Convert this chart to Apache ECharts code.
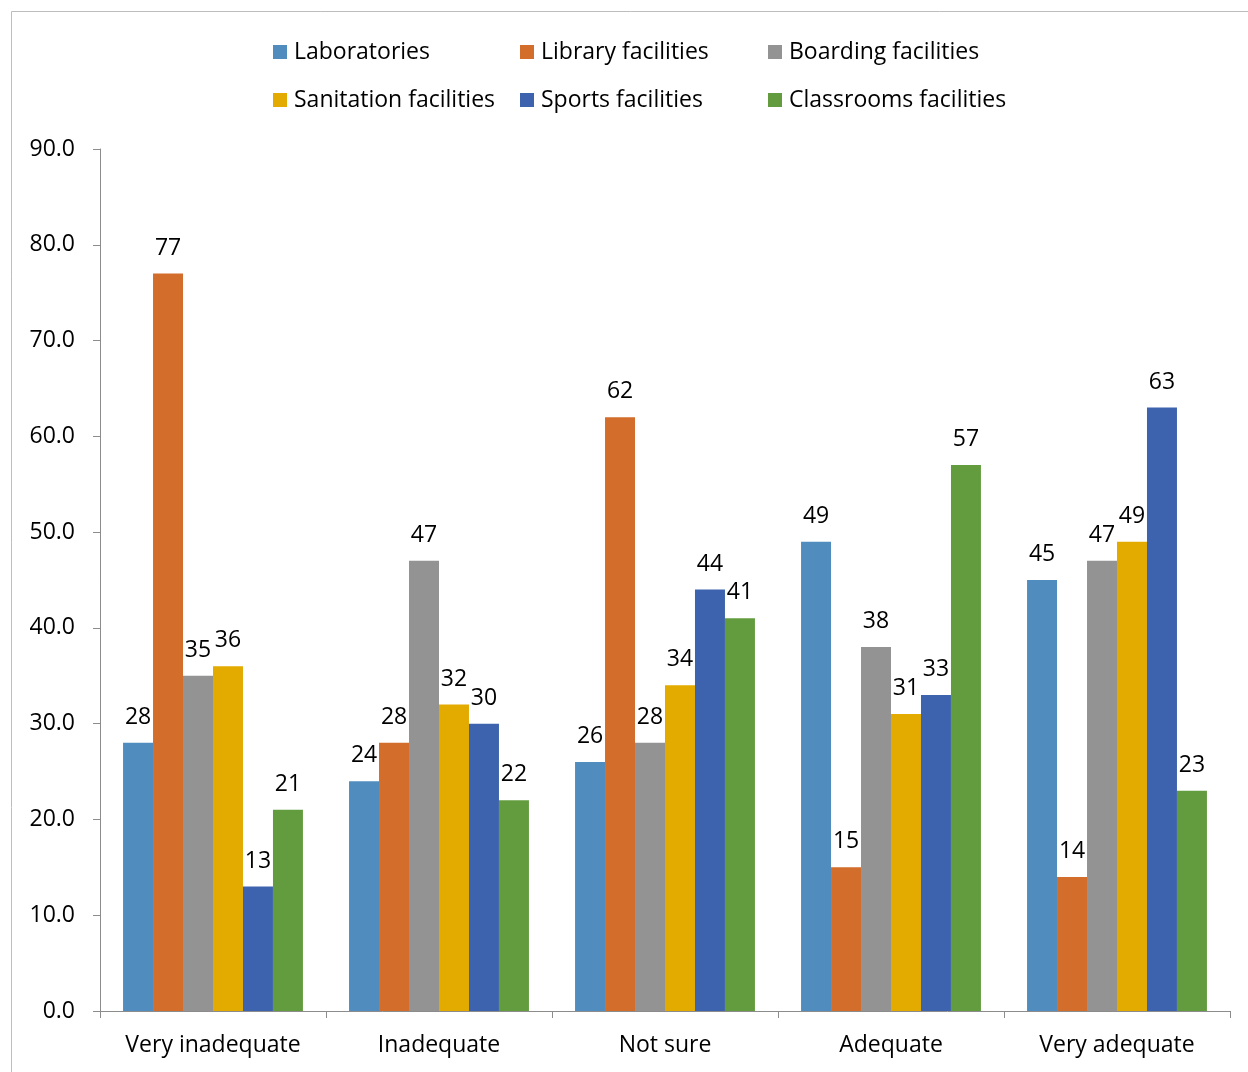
<!DOCTYPE html>
<html>
<head>
<meta charset="utf-8">
<script src="https://cdn.jsdelivr.net/npm/echarts@6/dist/echarts.min.js"></script>
<style>
  html, body { margin: 0; padding: 0; background: #fff; }
  #chart { width: 1248px; height: 1072px; }
</style>
</head>
<body>
<div id="chart"></div>
<script>
// Ratings of school facilities (%)
const categories = ['Very inadequate', 'Inadequate', 'Not sure', 'Adequate', 'Very adequate'];

const laboratories = [28, 24, 26, 49, 45];
const library      = [77, 28, 62, 15, 14];
const boarding     = [35, 47, 28, 38, 47];
const sanitation   = [36, 32, 34, 31, 49];
const sports       = [13, 30, 44, 33, 63];
const classrooms   = [21, 22, 41, 57, 23];

const yTicks = [0, 10, 20, 30, 40, 50, 60, 70, 80, 90];

const FONT = '"Open Sans", "Noto Sans", sans-serif';
const FS = 23;

const seriesDefs = [
  { name: 'Laboratories',          data: laboratories, color: '#508CBE' },
  { name: 'Library facilities',    data: library,      color: '#D36D2B' },
  { name: 'Boarding facilities',   data: boarding,     color: '#939393' },
  { name: 'Sanitation facilities', data: sanitation,   color: '#E3AA00' },
  { name: 'Sports facilities',     data: sports,       color: '#3E63AE' },
  { name: 'Classrooms facilities', data: classrooms,   color: '#629C3F' }
];

const chart = echarts.init(document.getElementById('chart'), null, { renderer: 'canvas' });

const legendBase = {
  orient: 'vertical',
  top: 35,
  itemWidth: 14,
  itemHeight: 14,
  itemGap: 24,
  icon: 'rect',
  textStyle: { fontFamily: FONT, fontSize: FS, color: '#000', lineHeight: 24, padding: [0, 0, 0, 2] },
  selectedMode: false
};

chart.setOption({
  animation: false,
  backgroundColor: '#fff',
  graphic: [{
    type: 'rect',
    shape: { x: 11.5, y: 11.5, width: 1260, height: 1100 },
    style: { fill: 'none', stroke: '#BDBDBD', lineWidth: 1 },
    silent: true,
    z: -1
  }],
  legend: [
    Object.assign({}, legendBase, { left: 268, data: ['Laboratories', 'Sanitation facilities'] }),
    Object.assign({}, legendBase, { left: 515, data: ['Library facilities', 'Sports facilities'] }),
    Object.assign({}, legendBase, { left: 763, data: ['Boarding facilities', 'Classrooms facilities'] })
  ],
  grid: { left: 100, right: 18, top: 149, bottom: 61, containLabel: false },
  xAxis: {
    type: 'category',
    data: categories,
    axisLine: { lineStyle: { color: '#8C8C8C', width: 1 } },
    axisTick: { show: true, interval: 0, length: 7, lineStyle: { color: '#8C8C8C' } },
    axisLabel: { interval: 0, fontFamily: FONT, fontSize: FS, color: '#000', margin: 23 }
  },
  yAxis: {
    type: 'value',
    min: yTicks[0],
    max: yTicks[yTicks.length - 1],
    interval: 10,
    splitLine: { show: false },
    axisLine: { show: true, lineStyle: { color: '#8C8C8C', width: 1 } },
    axisTick: { show: true, length: 7, lineStyle: { color: '#8C8C8C' } },
    axisLabel: {
      fontFamily: FONT, fontSize: FS, color: '#000', margin: 25,
      formatter: v => v.toFixed(1)
    }
  },
  series: seriesDefs.map(s => ({
    name: s.name,
    type: 'bar',
    data: s.data,
    barGap: '0%',
    barCategoryGap: '20.4%',
    itemStyle: { color: s.color },
    label: {
      show: true,
      position: 'top',
      distance: 14,
      fontFamily: FONT,
      fontSize: FS,
      color: '#000'
    }
  }))
});
</script>
</body>
</html>
